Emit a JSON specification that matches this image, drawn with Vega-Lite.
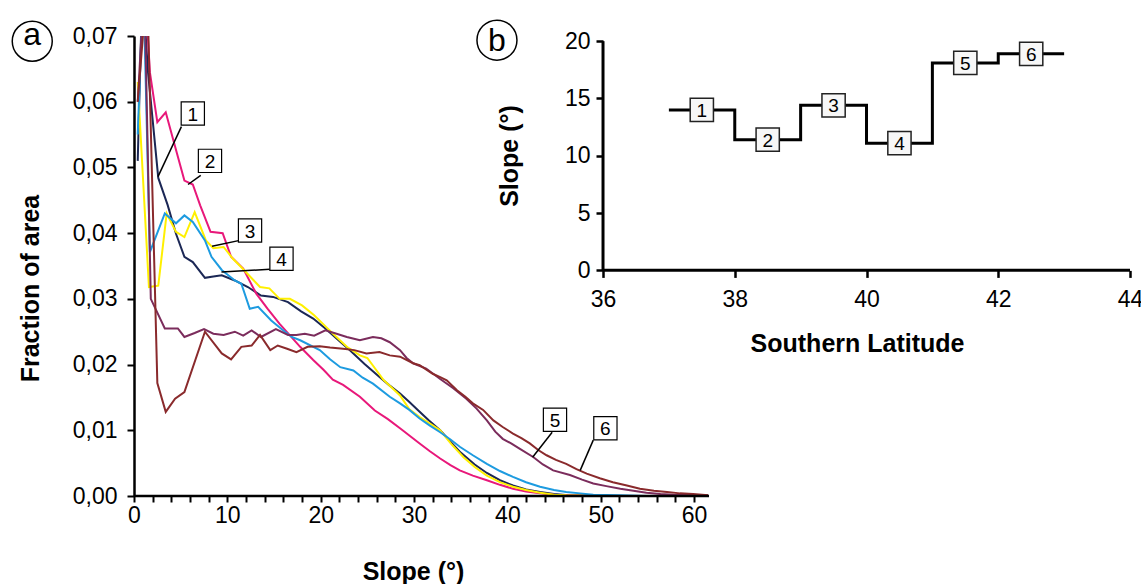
{
  "$schema": "https://vega.github.io/schema/vega-lite/v6.json",
  "padding": {"left": 9, "top": 17, "right": 0, "bottom": 0},
  "width": 996,
  "height": 460,
  "config": {
    "locale": {"number": {"decimal": ",", "thousands": ".", "grouping": [3], "currency": ["", " €"]}},
    "view": {"stroke": null},
    "font": "Liberation Sans",
    "axis": {"labelFont": "Liberation Sans", "titleFont": "Liberation Sans", "labelColor": "black", "titleColor": "black", "domainColor": "black", "tickColor": "black", "grid": false, "labelFlush": false, "labelOverlap": false}
  },
  "resolve": {"scale": {"x": "independent", "y": "independent"}, "axis": {"x": "independent", "y": "independent"}},
  "datasets": {
    "curves": [
      {"id":"1","slope":0.4,"frac":0.051},{"id":"1","slope":0.9,"frac":0.078},{"id":"1","slope":1.5,"frac":0.0645},{"id":"1","slope":2.6,"frac":0.0484},{"id":"1","slope":3.6,"frac":0.0443},{"id":"1","slope":4.5,"frac":0.0399},{"id":"1","slope":5.4,"frac":0.0364},{"id":"1","slope":6.3,"frac":0.0356},{"id":"1","slope":7.6,"frac":0.0332},{"id":"1","slope":8.5,"frac":0.0334},{"id":"1","slope":9.4,"frac":0.0336},{"id":"1","slope":10.8,"frac":0.0328},{"id":"1","slope":12.2,"frac":0.0318},{"id":"1","slope":13.6,"frac":0.0305},{"id":"1","slope":14.9,"frac":0.0303},{"id":"1","slope":16.5,"frac":0.0295},{"id":"1","slope":17.9,"frac":0.0281},{"id":"1","slope":19.2,"frac":0.027},{"id":"1","slope":20.5,"frac":0.0255},{"id":"1","slope":22.0,"frac":0.0236},{"id":"1","slope":23.1,"frac":0.0222},{"id":"1","slope":24.7,"frac":0.0201},{"id":"1","slope":26.3,"frac":0.0181},{"id":"1","slope":27.4,"frac":0.0168},{"id":"1","slope":28.5,"frac":0.0156},{"id":"1","slope":29.5,"frac":0.0143},{"id":"1","slope":30.4,"frac":0.0131},{"id":"1","slope":31.6,"frac":0.0115},{"id":"1","slope":32.8,"frac":0.01},{"id":"1","slope":34.0,"frac":0.0081},{"id":"1","slope":35.0,"frac":0.0066},{"id":"1","slope":36.5,"frac":0.0048},{"id":"1","slope":37.8,"frac":0.0035},{"id":"1","slope":39.2,"frac":0.0024},{"id":"1","slope":40.6,"frac":0.0016},{"id":"1","slope":42.0,"frac":0.001},{"id":"1","slope":43.5,"frac":0.0006},{"id":"1","slope":45.0,"frac":0.0003},{"id":"1","slope":46.5,"frac":0.0001},{"id":"1","slope":50,"frac":0},{"id":"1","slope":61.5,"frac":0},
      {"id":"2","slope":0.4,"frac":0.072},{"id":"2","slope":1.0,"frac":0.082},{"id":"2","slope":1.7,"frac":0.0645},{"id":"2","slope":2.5,"frac":0.0569},{"id":"2","slope":3.4,"frac":0.0584},{"id":"2","slope":4.4,"frac":0.0532},{"id":"2","slope":5.4,"frac":0.048},{"id":"2","slope":6.3,"frac":0.0474},{"id":"2","slope":7.1,"frac":0.0442},{"id":"2","slope":8.2,"frac":0.0402},{"id":"2","slope":9.5,"frac":0.04},{"id":"2","slope":10.4,"frac":0.0364},{"id":"2","slope":11.7,"frac":0.0346},{"id":"2","slope":13.1,"frac":0.0308},{"id":"2","slope":14.3,"frac":0.0285},{"id":"2","slope":15.6,"frac":0.0262},{"id":"2","slope":16.8,"frac":0.0243},{"id":"2","slope":17.8,"frac":0.0227},{"id":"2","slope":19.2,"frac":0.0207},{"id":"2","slope":20.3,"frac":0.0192},{"id":"2","slope":21.3,"frac":0.0177},{"id":"2","slope":22.4,"frac":0.0169},{"id":"2","slope":24.2,"frac":0.0151},{"id":"2","slope":25.8,"frac":0.013},{"id":"2","slope":27.2,"frac":0.0117},{"id":"2","slope":28.6,"frac":0.0102},{"id":"2","slope":29.6,"frac":0.0091},{"id":"2","slope":30.6,"frac":0.008},{"id":"2","slope":31.7,"frac":0.0068},{"id":"2","slope":32.8,"frac":0.0057},{"id":"2","slope":33.9,"frac":0.0047},{"id":"2","slope":34.9,"frac":0.0039},{"id":"2","slope":36.3,"frac":0.0031},{"id":"2","slope":37.8,"frac":0.0024},{"id":"2","slope":39.2,"frac":0.0017},{"id":"2","slope":40.6,"frac":0.0011},{"id":"2","slope":42.0,"frac":0.0007},{"id":"2","slope":43.5,"frac":0.0004},{"id":"2","slope":45.0,"frac":0.0002},{"id":"2","slope":46.7,"frac":0.0001},{"id":"2","slope":50,"frac":0},{"id":"2","slope":61.5,"frac":0},
      {"id":"3","slope":0.4,"frac":0.063},{"id":"3","slope":1.6,"frac":0.0318},{"id":"3","slope":2.6,"frac":0.032},{"id":"3","slope":3.5,"frac":0.043},{"id":"3","slope":4.5,"frac":0.0402},{"id":"3","slope":5.4,"frac":0.0394},{"id":"3","slope":6.5,"frac":0.0432},{"id":"3","slope":7.7,"frac":0.0389},{"id":"3","slope":8.5,"frac":0.0377},{"id":"3","slope":9.6,"frac":0.0379},{"id":"3","slope":10.6,"frac":0.0361},{"id":"3","slope":11.5,"frac":0.0348},{"id":"3","slope":12.3,"frac":0.0336},{"id":"3","slope":13.5,"frac":0.0318},{"id":"3","slope":14.5,"frac":0.0316},{"id":"3","slope":15.6,"frac":0.03},{"id":"3","slope":16.7,"frac":0.03},{"id":"3","slope":18.0,"frac":0.029},{"id":"3","slope":19.3,"frac":0.0275},{"id":"3","slope":20.6,"frac":0.0257},{"id":"3","slope":21.6,"frac":0.0243},{"id":"3","slope":22.8,"frac":0.0227},{"id":"3","slope":24.2,"frac":0.0214},{"id":"3","slope":25.0,"frac":0.021},{"id":"3","slope":26.7,"frac":0.0177},{"id":"3","slope":27.6,"frac":0.0165},{"id":"3","slope":28.5,"frac":0.0153},{"id":"3","slope":29.5,"frac":0.0132},{"id":"3","slope":30.6,"frac":0.012},{"id":"3","slope":31.7,"frac":0.011},{"id":"3","slope":32.8,"frac":0.01},{"id":"3","slope":34.0,"frac":0.0079},{"id":"3","slope":35.3,"frac":0.0059},{"id":"3","slope":36.5,"frac":0.0044},{"id":"3","slope":37.8,"frac":0.0031},{"id":"3","slope":39.2,"frac":0.0021},{"id":"3","slope":40.6,"frac":0.0014},{"id":"3","slope":42.0,"frac":0.0009},{"id":"3","slope":43.5,"frac":0.0005},{"id":"3","slope":45.0,"frac":0.0002},{"id":"3","slope":46.3,"frac":0.0001},{"id":"3","slope":50,"frac":0},{"id":"3","slope":61.5,"frac":0},
      {"id":"4","slope":0.4,"frac":0.055},{"id":"4","slope":1.0,"frac":0.078},{"id":"4","slope":1.7,"frac":0.0371},{"id":"4","slope":3.3,"frac":0.043},{"id":"4","slope":4.5,"frac":0.0415},{"id":"4","slope":5.4,"frac":0.0427},{"id":"4","slope":6.3,"frac":0.0417},{"id":"4","slope":7.6,"frac":0.0389},{"id":"4","slope":8.3,"frac":0.0364},{"id":"4","slope":9.4,"frac":0.0344},{"id":"4","slope":10.8,"frac":0.0328},{"id":"4","slope":11.5,"frac":0.0323},{"id":"4","slope":12.4,"frac":0.0285},{"id":"4","slope":13.3,"frac":0.0288},{"id":"4","slope":14.7,"frac":0.0267},{"id":"4","slope":15.8,"frac":0.0254},{"id":"4","slope":16.9,"frac":0.0242},{"id":"4","slope":17.8,"frac":0.0237},{"id":"4","slope":19.9,"frac":0.0222},{"id":"4","slope":21.0,"frac":0.0208},{"id":"4","slope":22.1,"frac":0.0196},{"id":"4","slope":23.5,"frac":0.0191},{"id":"4","slope":24.5,"frac":0.018},{"id":"4","slope":25.6,"frac":0.0171},{"id":"4","slope":27.4,"frac":0.0151},{"id":"4","slope":28.5,"frac":0.0141},{"id":"4","slope":29.5,"frac":0.0131},{"id":"4","slope":30.6,"frac":0.0118},{"id":"4","slope":31.7,"frac":0.0107},{"id":"4","slope":32.8,"frac":0.0097},{"id":"4","slope":33.9,"frac":0.0086},{"id":"4","slope":34.9,"frac":0.0075},{"id":"4","slope":36.3,"frac":0.0062},{"id":"4","slope":37.8,"frac":0.0049},{"id":"4","slope":39.2,"frac":0.0038},{"id":"4","slope":40.6,"frac":0.0029},{"id":"4","slope":42.0,"frac":0.0021},{"id":"4","slope":43.5,"frac":0.0014},{"id":"4","slope":45.0,"frac":0.0009},{"id":"4","slope":46.3,"frac":0.0006},{"id":"4","slope":47.8,"frac":0.0004},{"id":"4","slope":49.2,"frac":0.0002},{"id":"4","slope":52,"frac":0.0001},{"id":"4","slope":55,"frac":0},{"id":"4","slope":61.5,"frac":0},
      {"id":"5","slope":0.4,"frac":0.06},{"id":"5","slope":1.1,"frac":0.078},{"id":"5","slope":1.8,"frac":0.03},{"id":"5","slope":3.3,"frac":0.0255},{"id":"5","slope":4.7,"frac":0.0255},{"id":"5","slope":5.4,"frac":0.0242},{"id":"5","slope":6.5,"frac":0.0248},{"id":"5","slope":7.5,"frac":0.0254},{"id":"5","slope":8.5,"frac":0.0247},{"id":"5","slope":9.6,"frac":0.0245},{"id":"5","slope":10.8,"frac":0.025},{"id":"5","slope":11.7,"frac":0.0244},{"id":"5","slope":12.6,"frac":0.0252},{"id":"5","slope":13.6,"frac":0.0242},{"id":"5","slope":15.2,"frac":0.0254},{"id":"5","slope":16.5,"frac":0.0245},{"id":"5","slope":17.4,"frac":0.0245},{"id":"5","slope":18.3,"frac":0.0247},{"id":"5","slope":19.3,"frac":0.0244},{"id":"5","slope":20.5,"frac":0.0252},{"id":"5","slope":21.7,"frac":0.0247},{"id":"5","slope":22.8,"frac":0.0242},{"id":"5","slope":24.2,"frac":0.0237},{"id":"5","slope":25.6,"frac":0.0242},{"id":"5","slope":26.5,"frac":0.024},{"id":"5","slope":27.4,"frac":0.0234},{"id":"5","slope":28.5,"frac":0.0222},{"id":"5","slope":29.2,"frac":0.021},{"id":"5","slope":29.9,"frac":0.0202},{"id":"5","slope":31.3,"frac":0.0194},{"id":"5","slope":32.8,"frac":0.0178},{"id":"5","slope":34.2,"frac":0.0164},{"id":"5","slope":35.6,"frac":0.0148},{"id":"5","slope":36.7,"frac":0.0133},{"id":"5","slope":37.8,"frac":0.0115},{"id":"5","slope":38.7,"frac":0.0098},{"id":"5","slope":39.5,"frac":0.0087},{"id":"5","slope":40.4,"frac":0.008},{"id":"5","slope":41.3,"frac":0.0072},{"id":"5","slope":42.8,"frac":0.0059},{"id":"5","slope":43.8,"frac":0.0048},{"id":"5","slope":44.9,"frac":0.0039},{"id":"5","slope":46.7,"frac":0.0032},{"id":"5","slope":48.0,"frac":0.0025},{"id":"5","slope":49.2,"frac":0.0019},{"id":"5","slope":50.6,"frac":0.0015},{"id":"5","slope":52.1,"frac":0.0011},{"id":"5","slope":53.5,"frac":0.0008},{"id":"5","slope":54.9,"frac":0.0005},{"id":"5","slope":56.4,"frac":0.0003},{"id":"5","slope":57.8,"frac":0.0002},{"id":"5","slope":61.5,"frac":0.0001},
      {"id":"6","slope":0.4,"frac":0.06},{"id":"6","slope":1.4,"frac":0.078},{"id":"6","slope":2.5,"frac":0.0172},{"id":"6","slope":3.4,"frac":0.0128},{"id":"6","slope":4.4,"frac":0.0148},{"id":"6","slope":5.4,"frac":0.0158},{"id":"6","slope":7.6,"frac":0.025},{"id":"6","slope":9.4,"frac":0.0217},{"id":"6","slope":10.4,"frac":0.0208},{"id":"6","slope":11.5,"frac":0.0227},{"id":"6","slope":12.6,"frac":0.0229},{"id":"6","slope":13.5,"frac":0.0245},{"id":"6","slope":14.6,"frac":0.0222},{"id":"6","slope":15.4,"frac":0.0229},{"id":"6","slope":16.4,"frac":0.0224},{"id":"6","slope":17.4,"frac":0.0219},{"id":"6","slope":18.6,"frac":0.0227},{"id":"6","slope":19.9,"frac":0.0228},{"id":"6","slope":21.0,"frac":0.0226},{"id":"6","slope":22.4,"frac":0.0224},{"id":"6","slope":23.6,"frac":0.0222},{"id":"6","slope":24.9,"frac":0.0217},{"id":"6","slope":26.3,"frac":0.0219},{"id":"6","slope":27.4,"frac":0.0214},{"id":"6","slope":28.5,"frac":0.0212},{"id":"6","slope":29.9,"frac":0.0202},{"id":"6","slope":30.6,"frac":0.0199},{"id":"6","slope":32.0,"frac":0.0186},{"id":"6","slope":32.8,"frac":0.0181},{"id":"6","slope":33.5,"frac":0.0176},{"id":"6","slope":34.6,"frac":0.0161},{"id":"6","slope":35.5,"frac":0.0151},{"id":"6","slope":36.3,"frac":0.0141},{"id":"6","slope":37.4,"frac":0.0131},{"id":"6","slope":38.5,"frac":0.0115},{"id":"6","slope":39.5,"frac":0.0105},{"id":"6","slope":40.6,"frac":0.0095},{"id":"6","slope":41.5,"frac":0.0088},{"id":"6","slope":42.4,"frac":0.008},{"id":"6","slope":43.3,"frac":0.007},{"id":"6","slope":44.2,"frac":0.0062},{"id":"6","slope":45.2,"frac":0.0055},{"id":"6","slope":46.3,"frac":0.0049},{"id":"6","slope":47.4,"frac":0.0041},{"id":"6","slope":48.5,"frac":0.0034},{"id":"6","slope":49.9,"frac":0.0027},{"id":"6","slope":51.3,"frac":0.0021},{"id":"6","slope":52.8,"frac":0.0016},{"id":"6","slope":54.2,"frac":0.0011},{"id":"6","slope":55.7,"frac":0.0008},{"id":"6","slope":57.1,"frac":0.0006},{"id":"6","slope":58.5,"frac":0.0004},{"id":"6","slope":59.9,"frac":0.0003},{"id":"6","slope":61.5,"frac":0.0001}
    ],
    "leadersA": [
      {"id":"1","slope":5.08,"frac":0.0562,"slope2":2.57,"frac2":0.0486},
      {"id":"2","slope":7.15,"frac":0.0488,"slope2":5.79,"frac2":0.0474},
      {"id":"3","slope":11.33,"frac":0.0389,"slope2":8.36,"frac2":0.038},
      {"id":"4","slope":14.54,"frac":0.0345,"slope2":9.37,"frac2":0.0341},
      {"id":"5","slope":44.8,"frac":0.0097,"slope2":42.7,"frac2":0.0059},
      {"id":"6","slope":49.2,"frac":0.0085,"slope2":47.8,"frac2":0.0039}
    ],
    "boxesA": [
      {"id":"1","slope":6.3,"frac":0.0582},
      {"id":"2","slope":8.14,"frac":0.051},
      {"id":"3","slope":12.43,"frac":0.0404},
      {"id":"4","slope":15.8,"frac":0.0361},
      {"id":"5","slope":45.1,"frac":0.0116},
      {"id":"6","slope":50.5,"frac":0.0103}
    ],
    "axisA": [{"slope":0,"frac":0,"slope2":61.6,"frac2":0}],
    "markA": [{"t":"a","slope":-10.9,"frac":0.0692}],
    "steps": [
      {"lat":37,"deg":14.0},{"lat":38,"deg":11.4},{"lat":39,"deg":14.4},{"lat":40,"deg":11.1},{"lat":41,"deg":18.1},{"lat":42,"deg":18.9},{"lat":43,"deg":18.9}
    ],
    "boxesB": [
      {"id":"1","lat":37.5,"deg":14.0},{"id":"2","lat":38.5,"deg":11.4},{"id":"3","lat":39.5,"deg":14.4},{"id":"4","lat":40.5,"deg":11.1},{"id":"5","lat":41.5,"deg":18.1},{"id":"6","lat":42.5,"deg":18.9}
    ],
    "axisB": [{"lat":36,"deg":0,"lat2":36,"deg2":20},{"lat":36,"deg":0,"lat2":44,"deg2":0}],
    "markB": [{"t":"b","lat":34.39,"deg":20.09}]
  },
  "layer": [
    {
      "encoding": {
        "x": {"field": "slope", "type": "quantitative",
          "scale": {"domain": [0, 106.7], "nice": false, "zero": false},
          "axis": {"orient": "bottom", "domain": false, "title": "Slope (°)", "values": [0,2,4,6,8,10,12,14,16,18,20,22,24,26,28,30,32,34,36,38,40,42,44,46,48,50,52,54,56,58,60],
            "labelExpr": "datum.value % 10 === 0 ? datum.label : ''",
            "tickSize": 6, "tickWidth": 2, "labelFontSize": 23, "labelPadding": 2,
            "titleFontSize": 25, "titleFontWeight": "bold", "titlePadding": 32, "titleX": 279}},
        "y": {"field": "frac", "type": "quantitative",
          "scale": {"domain": [0, 0.07], "nice": false, "zero": true},
          "axis": {"orient": "left", "title": "Fraction of area", "values": [0,0.01,0.02,0.03,0.04,0.05,0.06,0.07], "format": ".2f",
            "tickSize": 7, "tickWidth": 2, "domainWidth": 2.5, "labelFontSize": 23, "labelPadding": 10,
            "titleFontSize": 25, "titleFontWeight": "bold", "titlePadding": 29, "titleY": 252}}
      },
      "layer": [
        {"data": {"name": "curves"}, "mark": {"type": "line", "strokeWidth": 2, "clip": true},
          "encoding": {"color": {"field": "id", "type": "nominal", "legend": null,
            "scale": {"domain": ["1","2","3","4","5","6"], "range": ["#1b2755", "#e8187a", "#fff000", "#1d9be0", "#7b2c5c", "#8a2a2c"]}}}},
        {"data": {"name": "axisA"}, "mark": {"type": "rule", "color": "black", "strokeWidth": 2.5},
          "encoding": {"x2": {"field": "slope2"}, "y2": {"field": "frac2"}}},
        {"data": {"name": "leadersA"}, "mark": {"type": "rule", "color": "black", "strokeWidth": 1.5},
          "encoding": {"x2": {"field": "slope2"}, "y2": {"field": "frac2"}}},
        {"data": {"name": "boxesA"}, "mark": {"type": "point", "shape": "square", "size": 540, "filled": true, "fill": "white", "stroke": "black", "strokeWidth": 1.2, "opacity": 1}},
        {"data": {"name": "boxesA"}, "mark": {"type": "text", "fontSize": 19, "font": "Liberation Sans", "color": "black", "baseline": "middle", "align": "center", "dy": 1},
          "encoding": {"text": {"field": "id"}}},
        {"data": {"name": "markA"}, "mark": {"type": "point", "shape": "circle", "size": 1600, "filled": false, "color": "black", "strokeWidth": 1.5, "opacity": 1}},
        {"data": {"name": "markA"}, "mark": {"type": "text", "fontSize": 32, "font": "Liberation Sans", "color": "black", "baseline": "alphabetic", "align": "center", "dy": 4},
          "encoding": {"text": {"field": "t"}}}
      ]
    },
    {
      "encoding": {
        "x": {"field": "lat", "type": "quantitative",
          "scale": {"domain": [28.88, 44], "nice": false, "zero": false},
          "axis": {"orient": "bottom", "offset": -225.6, "domain": false, "title": "Southern Latitude", "values": [36,38,40,42,44],
            "tickSize": 7, "tickWidth": 2.5, "labelFontSize": 23, "labelPadding": 11,
            "titleFontSize": 25, "titleFontWeight": "bold", "titlePadding": 20, "titleX": 723}},
        "y": {"field": "deg", "type": "quantitative",
          "scale": {"domain": [-19.69, 20.45], "nice": false, "zero": false},
          "axis": {"orient": "left", "offset": -469, "domain": false, "title": "Slope (°)", "values": [0,5,10,15,20],
            "tickSize": 7, "tickWidth": 2.5, "labelFontSize": 23, "labelPadding": 6,
            "titleFontSize": 25, "titleFontWeight": "bold", "titlePadding": 42, "titleY": 119.5}}
      },
      "layer": [
        {"data": {"name": "axisB"}, "mark": {"type": "rule", "color": "black", "strokeWidth": 3},
          "encoding": {"x2": {"field": "lat2"}, "y2": {"field": "deg2"}}},
        {"data": {"name": "steps"}, "mark": {"type": "line", "interpolate": "step-after", "color": "black", "strokeWidth": 3}},
        {"data": {"name": "boxesB"}, "mark": {"type": "point", "shape": "square", "size": 540, "filled": true, "fill": "#f7f7f7", "stroke": "#222222", "strokeWidth": 1.5, "opacity": 1}},
        {"data": {"name": "boxesB"}, "mark": {"type": "text", "fontSize": 19, "font": "Liberation Sans", "color": "black", "baseline": "middle", "align": "center", "dy": 1},
          "encoding": {"text": {"field": "id"}}},
        {"data": {"name": "markB"}, "mark": {"type": "point", "shape": "circle", "size": 1600, "filled": false, "color": "black", "strokeWidth": 1.5, "opacity": 1}},
        {"data": {"name": "markB"}, "mark": {"type": "text", "fontSize": 32, "font": "Liberation Sans", "color": "black", "baseline": "alphabetic", "align": "center", "dy": 11},
          "encoding": {"text": {"field": "t"}}}
      ]
    }
  ]
}
